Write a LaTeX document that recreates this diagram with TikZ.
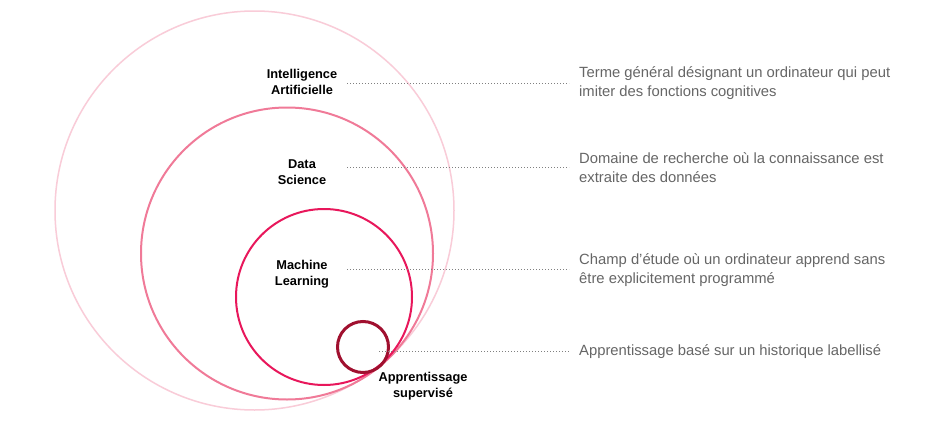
\documentclass[tikz,border=0pt]{standalone}
\usepackage{fontspec}
\setmainfont{Liberation Sans}
\definecolor{ringA}{HTML}{F9CCD8}
\definecolor{ringB}{HTML}{F07A98}
\definecolor{ringC}{HTML}{E8175B}
\definecolor{ringD}{HTML}{A0102F}
\definecolor{desc}{HTML}{666666}
\definecolor{dots}{HTML}{808080}
\begin{document}
\begin{tikzpicture}[x=1pt,y=-1pt,
  ring/.style={circle, draw, inner sep=0pt},
  lab/.style={font=\bfseries\fontsize{12.8}{16}\selectfont, align=center, inner sep=0pt, text=black},
  descr/.style={font=\fontsize{14.8}{18.5}\selectfont, align=left, anchor=west, inner sep=0pt, text=desc},
  leader/.style={draw=dots, line width=0.8pt, dash pattern=on 1.1pt off 1.9pt}]
\useasboundingbox (0,0) rectangle (938,439);
\fill[white] (0,0) rectangle (938,439);
% circles
\node[ring, draw=ringA, line width=1.5pt, minimum size=399pt] (ia) at (254.5,210.5) {};
\node[ring, draw=ringB, line width=2pt, minimum size=292pt] (ds) at (287,253.5) {};
\node[ring, draw=ringC, line width=2pt, minimum size=176pt] (ml) at (324,297) {};
\node[ring, draw=ringD, line width=3pt, minimum size=51pt] (sl) at (363,347) {};
% labels
\node[lab] (lia) at (302,82) {Intelligence\\Artificielle};
\node[lab] (lds) at (302,172.5) {Data\\Science};
\node[lab] (lml) at (302,274.5) {Machine\\Learning};
\node[lab] (lsl) at (423,386.5) {Apprentissage\\supervisé};
% descriptions
\node[descr] (dia) at (579,83.3) {Terme général désignant un ordinateur qui peut\\imiter des fonctions cognitives};
\node[descr] (dds) at (579,167.5) {Domaine de recherche où la connaissance est\\extraite des données};
\node[descr] (dml) at (579,270) {Champ d’étude où un ordinateur apprend sans\\être explicitement programmé};
\node[descr] (dsl) at (579,351.7) {Apprentissage basé sur un historique labellisé};
% leader start points
\coordinate (sia) at (347,83.3);
\coordinate (sds) at (347,167.3);
\coordinate (sml) at (347,269);
\coordinate (ssl) at (379,351.7);
\draw[leader] (sia) -- ([xshift=-10pt]dia.west |- sia);
\draw[leader] (sds) -- ([xshift=-10pt]dds.west |- sds);
\draw[leader] (sml) -- ([xshift=-10pt]dml.west |- sml);
\draw[leader] (ssl) -- ([xshift=-10pt]dsl.west |- ssl);
\end{tikzpicture}
\end{document}
